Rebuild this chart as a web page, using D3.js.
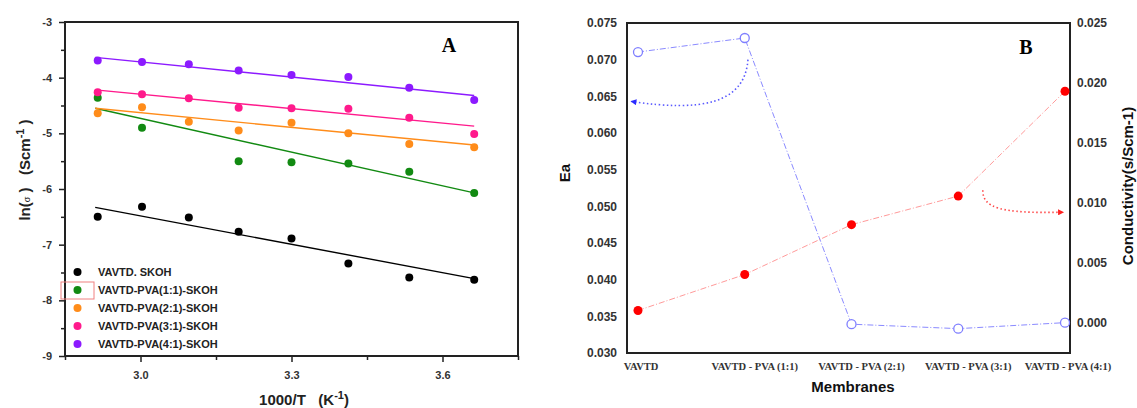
<!DOCTYPE html>
<html>
<head>
<meta charset="utf-8">
<script src="https://cdn.jsdelivr.net/npm/d3@7"></script>
<style>
  body { margin: 0; background: #fff; }
  text { font-family: "Liberation Sans", Arial, sans-serif; }
</style>
</head>
<body>
<div id="chart"></div>
<script>
// ---------- panel A data (Arrhenius plot) ----------
var invT = [2.915, 3.003, 3.096, 3.195, 3.300, 3.413, 3.534, 3.663];

var seriesNames = ["VAVTD. SKOH", "VAVTD-PVA(1:1)-SKOH", "VAVTD-PVA(2:1)-SKOH",
                   "VAVTD-PVA(3:1)-SKOH", "VAVTD-PVA(4:1)-SKOH"];
var seriesColors = ["#000000", "#128a12", "#ff8c1a", "#ff1a8c", "#8c1aff"];

var lnBlack  = [-6.50, -6.32, -6.51, -6.77, -6.89, -7.34, -7.59, -7.63];
var lnGreen  = [-4.36, -4.90, null, -5.50, -5.52, -5.54, -5.69, -6.07];
var lnOrange = [-4.64, -4.53, -4.79, -4.95, -4.81, -5.00, -5.19, -5.25];
var lnPink   = [-4.26, -4.30, -4.37, -4.54, -4.55, -4.56, -4.72, -5.01];
var lnPurple = [-3.69, -3.72, -3.76, -3.87, -3.95, -3.99, -4.18, -4.40];

// linear fit end points (start at fitX[0], end at fitX[1])
var fitX = [2.91, 3.663];
var fitBlack  = [-6.33, -7.61];
var fitGreen  = [-4.55, -6.07];
var fitOrange = [-4.55, -5.21];
var fitPink   = [-4.22, -4.87];
var fitPurple = [-3.635, -4.32];

var xTicksA = [3.0, 3.3, 3.6];
var xMinorA = [2.85, 3.15, 3.45, 3.75];
var yTicksA = [-3, -4, -5, -6, -7, -8, -9];
var yMinorA = [-3.5, -4.5, -5.5, -6.5, -7.5, -8.5];

// ---------- panel B data ----------
var membranes = ["VAVTD", "VAVTD - PVA (1:1)", "VAVTD - PVA (2:1)",
                 "VAVTD - PVA (3:1)", "VAVTD - PVA (4:1)"];
var eaValues   = [0.0358, 0.0407, 0.0475, 0.0514, 0.0657];
var condValues = [0.02258, 0.02375, -0.0001, -0.00047, 0.00003];
var eaTicks   = [0.030, 0.035, 0.040, 0.045, 0.050, 0.055, 0.060, 0.065, 0.070, 0.075];
var condTicks = [0.000, 0.005, 0.010, 0.015, 0.020, 0.025];

// curved arrows, in (membrane index, Ea) coordinates: start, ctrl1, ctrl2, end
var blueArrow = [[1.03, 0.0700], [1.0, 0.0639], [0.58, 0.0629], [-0.06, 0.0643]];
var redArrow  = [[3.23, 0.0522], [3.23, 0.0498], [3.39, 0.0490], [3.98, 0.0492]];

var svgWidth = 1137;
var svgHeight = 408;

var svg = d3.select("#chart")
  .append("svg")
  .attr("width", svgWidth)
  .attr("height", svgHeight);

var defs = svg.append("defs");
function addArrowHead(id, color) {
  defs.append("marker")
    .attr("id", id)
    .attr("viewBox", "0 0 10 10")
    .attr("refX", 8)
    .attr("refY", 5)
    .attr("markerWidth", 9)
    .attr("markerHeight", 6)
    .attr("markerUnits", "userSpaceOnUse")
    .attr("orient", "auto")
    .append("path")
    .attr("d", "M0,0 L10,5 L0,10 z")
    .attr("fill", color);
}
addArrowHead("arrowBlue", "#2b2bff");
addArrowHead("arrowRed", "#ff2020");

// =============== PANEL A ===============
var xA = d3.scaleLinear().domain([2.85, 3.75]).range([65, 518]);
var yA = d3.scaleLinear().domain([-9, -3]).range([356, 22]);

var gA = svg.append("g");

// minor ticks
gA.append("g")
  .attr("transform", "translate(0,356)")
  .call(d3.axisBottom(xA).tickValues(xMinorA).tickSize(4).tickFormat(""))
  .call(g => g.select(".domain").remove());
gA.append("g")
  .attr("transform", "translate(65,0)")
  .call(d3.axisLeft(yA).tickValues(yMinorA).tickSize(4).tickFormat(""))
  .call(g => g.select(".domain").remove());

// major ticks
var xAxisA = gA.append("g")
  .attr("transform", "translate(0,356)")
  .call(d3.axisBottom(xA).tickValues(xTicksA).tickSize(6).tickPadding(9).tickFormat(d3.format(".1f")));
var yAxisA = gA.append("g")
  .attr("transform", "translate(65,0)")
  .call(d3.axisLeft(yA).tickValues(yTicksA).tickSize(6).tickPadding(7).tickFormat(d => String(d)));

gA.selectAll(".domain").remove();
gA.selectAll(".tick line").attr("stroke", "#222").attr("stroke-width", 1.5);
gA.selectAll(".tick text")
  .attr("font-size", 11)
  .attr("font-weight", "bold")
  .attr("fill", "#333")
  .style("font-family", "'Liberation Sans', Arial, sans-serif");

// frame
gA.append("rect")
  .attr("x", 65).attr("y", 22)
  .attr("width", 518 - 65).attr("height", 356 - 22)
  .attr("fill", "none")
  .attr("stroke", "#222")
  .attr("stroke-width", 2);

var seriesA = [
  { name: seriesNames[0], color: seriesColors[0], y: lnBlack,  fit: fitBlack },
  { name: seriesNames[1], color: seriesColors[1], y: lnGreen,  fit: fitGreen },
  { name: seriesNames[2], color: seriesColors[2], y: lnOrange, fit: fitOrange },
  { name: seriesNames[3], color: seriesColors[3], y: lnPink,   fit: fitPink },
  { name: seriesNames[4], color: seriesColors[4], y: lnPurple, fit: fitPurple }
];

var fitLine = d3.line()
  .x(d => xA(d[0]))
  .y(d => yA(d[1]));

seriesA.forEach(function(s) {
  gA.append("path")
    .datum(fitX.map((x, i) => [x, s.fit[i]]))
    .attr("d", fitLine)
    .attr("fill", "none")
    .attr("stroke", s.color)
    .attr("stroke-width", 1.4);

  gA.append("g")
    .selectAll("circle")
    .data(invT.map((x, i) => [x, s.y[i]]).filter(d => d[1] !== null))
    .join("circle")
    .attr("cx", d => xA(d[0]))
    .attr("cy", d => yA(d[1]))
    .attr("r", 4)
    .attr("fill", s.color);
});

// legend
var legendA = gA.append("g");
seriesA.forEach(function(s, i) {
  var ly = 272 + i * 18;
  legendA.append("circle")
    .attr("cx", 77.5).attr("cy", ly).attr("r", 4)
    .attr("fill", s.color);
  legendA.append("text")
    .attr("x", 98).attr("y", ly + 4)
    .attr("font-size", 11)
    .attr("font-weight", "bold")
    .attr("fill", "#222")
    .text(s.name);
});
// red highlight box around green symbol
legendA.append("rect")
  .attr("x", 61).attr("y", 282)
  .attr("width", 33).attr("height", 17)
  .attr("fill", "none")
  .attr("stroke", "#f08080")
  .attr("stroke-width", 1);

// panel label
gA.append("text")
  .attr("x", 449).attr("y", 52)
  .attr("text-anchor", "middle")
  .attr("font-size", 20)
  .attr("font-weight", "bold")
  .style("font-family", "'Liberation Serif', 'Times New Roman', serif")
  .text("A");

// axis titles
var xTitleA = gA.append("text")
  .attr("x", 304).attr("y", 405)
  .attr("text-anchor", "middle")
  .attr("font-size", 15)
  .attr("font-weight", "bold")
  .attr("fill", "#222");
xTitleA.append("tspan").text("1000/T\u00a0\u00a0\u00a0(K");
xTitleA.append("tspan").attr("font-size", 11).attr("dy", -6).text("-1");
xTitleA.append("tspan").attr("dy", 6).text(")");

var yTitleA = gA.append("text")
  .attr("transform", "translate(30,170) rotate(-90)")
  .attr("text-anchor", "middle")
  .attr("font-size", 15)
  .attr("font-weight", "bold")
  .attr("fill", "#222");
yTitleA.append("tspan").text("ln(");
yTitleA.append("tspan").attr("font-size", 9).attr("font-weight", "normal").text("\u03c3");
yTitleA.append("tspan").text("\u00a0)\u00a0\u00a0\u00a0(Scm");
yTitleA.append("tspan").attr("font-size", 11).attr("dy", -6).text("-1");
yTitleA.append("tspan").attr("dy", 6).text("\u00a0)");

// =============== PANEL B ===============
var xB = d3.scaleLinear().domain([0, 4]).range([638, 1065]);
var yEa = d3.scaleLinear().domain([0.030, 0.075]).range([353, 23]);
var yCond = d3.scaleLinear().domain([-0.0025, 0.025]).range([353, 23]);

var gB = svg.append("g");

gB.append("g")
  .attr("transform", "translate(627,0)")
  .call(d3.axisLeft(yEa).tickValues(eaTicks).tickSize(0).tickPadding(10).tickFormat(d3.format(".3f")));
gB.append("g")
  .attr("transform", "translate(1070,0)")
  .call(d3.axisRight(yCond).tickValues(condTicks).tickSize(0).tickPadding(7).tickFormat(d3.format(".3f")));

gB.selectAll(".domain").remove();
gB.selectAll(".tick text")
  .attr("font-size", 12)
  .attr("font-weight", "bold")
  .attr("fill", "#333")
  .style("font-family", "'Liberation Sans', Arial, sans-serif");

gB.append("rect")
  .attr("x", 627).attr("y", 23)
  .attr("width", 1070 - 627).attr("height", 353 - 23)
  .attr("fill", "none")
  .attr("stroke", "#222")
  .attr("stroke-width", 2);

// category labels
gB.append("g")
  .selectAll("text")
  .data(membranes)
  .join("text")
  .attr("x", (d, i) => xB(i) + (i === 0 || i === 4 ? 3 : 10))
  .attr("y", 370)
  .attr("text-anchor", "middle")
  .attr("font-size", 10.5)
  .attr("font-weight", "bold")
  .attr("fill", "#333")
  .style("font-family", "'Liberation Serif', 'Times New Roman', serif")
  .text(d => d);

// conductivity (blue, open circles, right axis)
var condLine = d3.line()
  .x((d, i) => xB(i))
  .y(d => yCond(d));
gB.append("path")
  .datum(condValues)
  .attr("d", condLine)
  .attr("fill", "none")
  .attr("stroke", "#8a8aff")
  .attr("stroke-width", 1)
  .attr("stroke-dasharray", "6,2,1,2");
gB.append("g")
  .selectAll("circle")
  .data(condValues)
  .join("circle")
  .attr("cx", (d, i) => xB(i))
  .attr("cy", d => yCond(d))
  .attr("r", 4.5)
  .attr("fill", "#fff")
  .attr("stroke", "#7f7fff")
  .attr("stroke-width", 1.3);

// activation energy (red, filled, left axis)
var eaLine = d3.line()
  .x((d, i) => xB(i))
  .y(d => yEa(d));
gB.append("path")
  .datum(eaValues)
  .attr("d", eaLine)
  .attr("fill", "none")
  .attr("stroke", "#ff9a9a")
  .attr("stroke-width", 1)
  .attr("stroke-dasharray", "6,2,1,2");
gB.append("g")
  .selectAll("circle")
  .data(eaValues)
  .join("circle")
  .attr("cx", (d, i) => xB(i))
  .attr("cy", d => yEa(d))
  .attr("r", 4.5)
  .attr("fill", "#ff0000");

// curved dotted arrows pointing to each axis
function arrowPath(pts) {
  var p = d3.path();
  var q = pts.map(d => [xB(d[0]), yEa(d[1])]);
  p.moveTo(q[0][0], q[0][1]);
  p.bezierCurveTo(q[1][0], q[1][1], q[2][0], q[2][1], q[3][0], q[3][1]);
  return p.toString();
}
gB.append("path")
  .attr("d", arrowPath(blueArrow))
  .attr("fill", "none")
  .attr("stroke", "#5a5aff")
  .attr("stroke-width", 1.6)
  .attr("stroke-dasharray", "1.5,2.5")
  .attr("marker-end", "url(#arrowBlue)");
gB.append("path")
  .attr("d", arrowPath(redArrow))
  .attr("fill", "none")
  .attr("stroke", "#ff4a4a")
  .attr("stroke-width", 1.6)
  .attr("stroke-dasharray", "1.5,2.5")
  .attr("marker-end", "url(#arrowRed)");

// panel label
gB.append("text")
  .attr("x", 1026).attr("y", 54)
  .attr("text-anchor", "middle")
  .attr("font-size", 20)
  .attr("font-weight", "bold")
  .style("font-family", "'Liberation Serif', 'Times New Roman', serif")
  .text("B");

// axis titles
gB.append("text")
  .attr("x", 853).attr("y", 392)
  .attr("text-anchor", "middle")
  .attr("font-size", 15)
  .attr("font-weight", "bold")
  .attr("fill", "#111")
  .text("Membranes");

gB.append("text")
  .attr("transform", "translate(570,173) rotate(-90)")
  .attr("text-anchor", "middle")
  .attr("font-size", 15)
  .attr("font-weight", "bold")
  .attr("fill", "#111")
  .text("Ea");

gB.append("text")
  .attr("transform", "translate(1133,186) rotate(-90)")
  .attr("text-anchor", "middle")
  .attr("font-size", 15)
  .attr("font-weight", "bold")
  .attr("fill", "#111")
  .text("Conductivity(s/Scm-1)");
</script>
</body>
</html>
